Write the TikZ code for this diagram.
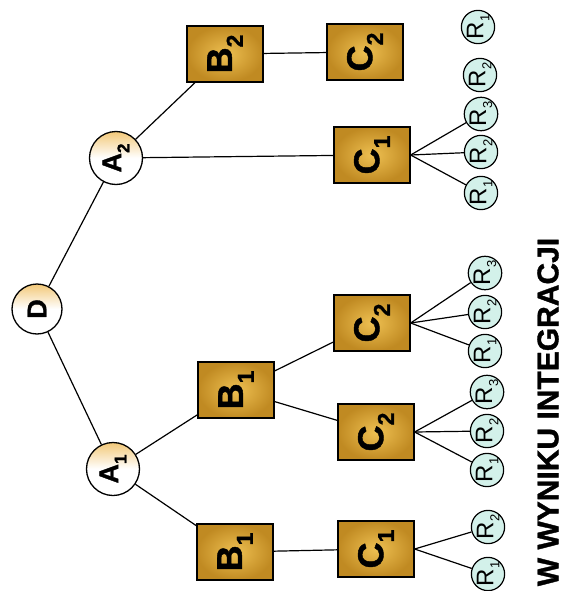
\documentclass[tikz,border=0pt]{standalone}
\usepackage{fontspec}
\setmainfont{Liberation Sans}
\newfontfamily\heavyfont{Liberation Sans Bold}[FakeBold=1.2]
\definecolor{boxlight}{HTML}{EEC052}
\definecolor{boxdark}{HTML}{C08A22}
\definecolor{circtint}{HTML}{F2C878}
\definecolor{rfill}{HTML}{D3F1EA}
\newcommand\mylab[2]{#1\raisebox{-0.3em}{\fontsize{23}{23}\selectfont #2}}
\newcommand\clab[2]{#1\raisebox{-0.3em}{\fontsize{17}{17}\selectfont #2}}
\newcommand\rlab[1]{R\raisebox{-0.25em}{\fontsize{13}{13}\selectfont #1}}
\begin{document}
\begin{tikzpicture}[x=1pt,y=-1pt,
  box/.style={draw, line width=1.3pt, rotate=90, minimum width=56pt, minimum height=76pt,
    inner sep=0pt, inner color=boxlight, outer color=boxdark,
    font=\fontsize{36}{36}\selectfont\heavyfont},
  bigc/.style={draw, circle, line width=1.3pt, rotate=90, minimum size=50pt, inner sep=0pt,
    top color=circtint, bottom color=white, middle color=white,
    font=\fontsize{27}{27}\selectfont\heavyfont},
  rc/.style={draw, circle, line width=1.2pt, rotate=90, minimum size=31pt, inner sep=0pt,
    fill=rfill, font=\fontsize{24}{24}\selectfont},
  conn/.style={line width=1.2pt}]
\useasboundingbox (0,0) rectangle (565,591);
% main nodes
\node[bigc] (D) at (37,309) {D};
\node[bigc, minimum size=53pt] (A1) at (113,469) {\clab{A}{1}};
\node[bigc, minimum size=53pt] (A2) at (116,158) {\clab{A}{2}};
\node[box] (B1a) at (235,552) {\mylab{B}{1}};
\node[box] (C1a) at (376,549) {\mylab{C}{1}};
\node[box] (B1b) at (236,390) {\mylab{B}{1}};
\node[box] (C2a) at (376,432) {\mylab{C}{2}};
\node[box] (C2b) at (372,323) {\mylab{C}{2}};
\node[box] (B2) at (225,54) {\mylab{B}{2}};
\node[box] (C2c) at (365,52) {\mylab{C}{2}};
\node[box] (C1b) at (372,155) {\mylab{C}{1}};
% R circles
\node[rc] (ra1) at (488,574) {\rlab{1}};
\node[rc] (ra2) at (488,527) {\rlab{2}};
\node[rc] (rb1) at (487,470) {\rlab{1}};
\node[rc] (rb2) at (487,431) {\rlab{2}};
\node[rc] (rb3) at (487,392) {\rlab{3}};
\node[rc] (rc1) at (485,351) {\rlab{1}};
\node[rc] (rc2) at (485,312) {\rlab{2}};
\node[rc] (rc3) at (485,273) {\rlab{3}};
\node[rc] (rd1) at (481,193) {\rlab{1}};
\node[rc] (rd2) at (481,152) {\rlab{2}};
\node[rc] (rd3) at (481,114) {\rlab{3}};
\node[rc] (re2) at (480,75) {\rlab{2}};
\node[rc] (re1) at (478,27) {\rlab{1}};
% caption
\node[rotate=90, font=\fontsize{30}{30}\selectfont\heavyfont] (cap) at (548,412) {W WYNIKU INTEGRACJI};
% tree connectors
\draw[conn] (D) -- (A1);
\draw[conn] (D) -- (A2);
\draw[conn] (A1) -- (B1a);
\draw[conn] (A1) -- (B1b);
\draw[conn] (B1a) -- (C1a);
\draw[conn] (B1b) -- (C2a);
\draw[conn] (B1b) -- (C2b);
\draw[conn] (A2) -- (C1b);
\draw[conn] (A2) -- (B2);
\draw[conn] (B2) -- (C2c);
% fans
\foreach \r in {ra1,ra2} \draw[conn] (C1a.south) -- (\r);
\foreach \r in {rb1,rb2,rb3} \draw[conn] (C2a.south) -- (\r);
\foreach \r in {rc1,rc2,rc3} \draw[conn] (C2b.south) -- (\r);
\foreach \r in {rd1,rd2,rd3} \draw[conn] (C1b.south) -- (\r);
\end{tikzpicture}
\end{document}
